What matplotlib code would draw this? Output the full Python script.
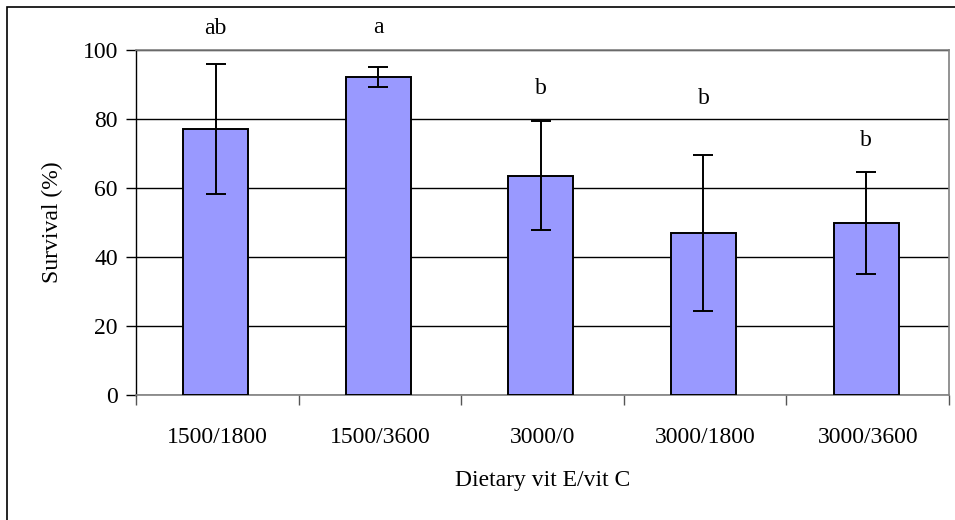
import numpy as np
import matplotlib.pyplot as plt
from matplotlib.patches import Rectangle

# data
treatments = ['1500/1800', '1500/3600', '3000/0', '3000/1800', '3000/3600']
survival = [77.0, 92.2, 63.6, 47.0, 49.9]
survival_err = [18.8, 2.9, 15.8, 22.6, 14.7]
letters = ['ab', 'a', 'b', 'b', 'b']
letter_gap = [10.5, 11.3, 9.4, 16.4, 9.3]   # space above the error bar

plt.rcParams['font.family'] = ['Liberation Serif', 'DejaVu Serif']
fs = 17

fig = plt.figure(figsize=(9.55, 5.2), dpi=100)
ax = fig.add_axes([136 / 955, 125 / 520, 813 / 955, 345 / 520])

x = np.arange(len(treatments))
ax.bar(x - 0.01, survival, width=0.4, color='#9999FF', edgecolor='black',
       linewidth=1.4, zorder=3)
ax.errorbar(x - 0.01, survival, yerr=survival_err, fmt='none', ecolor='black',
            elinewidth=1.4, capsize=7, capthick=1.4, zorder=4)

for i, lab in enumerate(letters):
    ax.text(x[i] - 0.01, survival[i] + survival_err[i] + letter_gap[i], lab,
            ha='center', va='center', fontsize=fs, clip_on=False)

ax.set_xlim(-0.5, len(treatments) - 0.5)
ax.set_ylim(0, 100)
ax.set_yticks(np.arange(0, 101, 20))
ax.yaxis.grid(True, color='black', linewidth=1.0, zorder=0)
ax.set_axisbelow(True)

# category separators as ticks
ax.set_xticks(np.arange(-0.5, len(treatments), 1.0))
ax.set_xticklabels([])
ax.set_xticks(x, minor=True)
ax.set_xticklabels(treatments, minor=True, fontsize=fs)
ax.tick_params(axis='x', which='major', direction='out', length=7, width=1, color='#555555')
ax.tick_params(axis='x', which='minor', length=0, pad=23)
ax.tick_params(axis='y', direction='out', length=7, width=1, labelsize=fs, pad=6)

for side in ['top', 'right', 'bottom']:
    ax.spines[side].set_color('#808080')
    ax.spines[side].set_linewidth(1.2)
ax.spines['left'].set_color('black')
ax.spines['left'].set_linewidth(1.0)

ax.set_xlabel('Dietary vit E/vit C', fontsize=fs, labelpad=16)
ax.set_ylabel('Survival (%)', fontsize=fs, labelpad=14)

# chart area border
fig.patches.append(Rectangle((7 / 955, -0.05), 1.1, 1 - 7 / 520 + 0.05,
                             transform=fig.transFigure, fill=False,
                             edgecolor='black', linewidth=1.2))

fig.savefig('out.png', dpi=100)
